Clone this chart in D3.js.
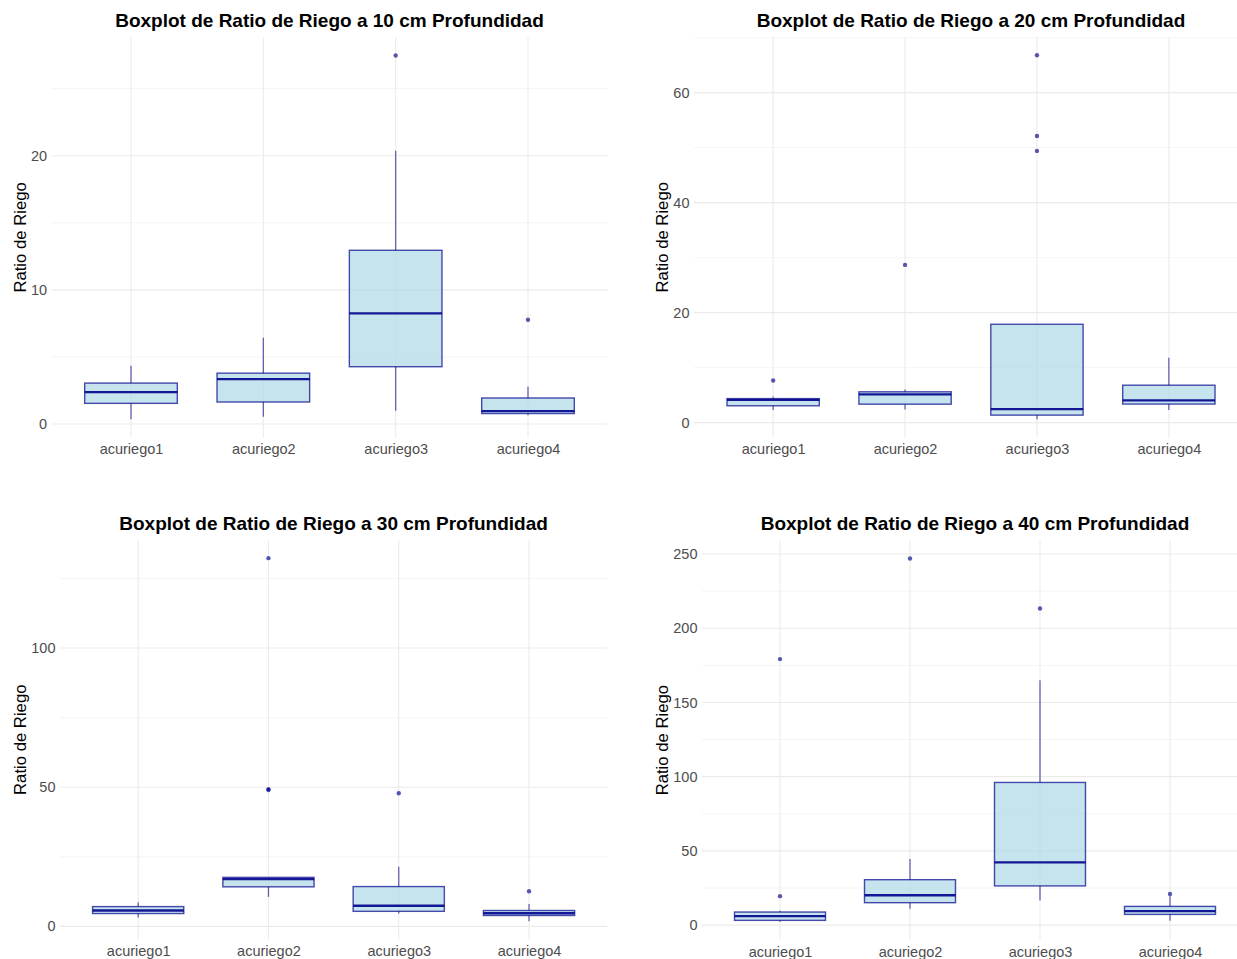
<!DOCTYPE html>
<html>
<head>
<meta charset="utf-8">
<script src="https://cdn.jsdelivr.net/npm/d3@7"></script>
<style>
  html, body { margin: 0; padding: 0; background: #fff; overflow: hidden; }
  svg { display: block; font-family: "Liberation Sans", Arial, sans-serif; }
</style>
</head>
<body>
<div id="chart"></div>
<script>
// categories and depths
var categories = ["acuriego1", "acuriego2", "acuriego3", "acuriego4"];
var depths = [10, 20, 30, 40];

// box stats, one row per depth (10, 20, 30, 40 cm), one value per category
var whiskerLow = [
  [0.35, 0.55, 0.99, 0.66],
  [2.3, 2.4, 0.6, 2.3],
  [3.2, 10.6, 4.6, 1.8],
  [2.2, 11.0, 16.6, 2.9]
];
var q1 = [
  [1.54, 1.64, 4.27, 0.78],
  [3.06, 3.35, 1.36, 3.37],
  [4.6, 14.2, 5.4, 3.9],
  [3.2, 15.1, 26.4, 7.2]
];
var median = [
  [2.37, 3.34, 8.24, 0.96],
  [4.12, 5.13, 2.45, 4.03],
  [5.7, 17.0, 7.4, 4.7],
  [6.0, 20.1, 42.3, 9.4]
];
var q3 = [
  [3.05, 3.79, 12.95, 1.94],
  [4.36, 5.6, 17.88, 6.8],
  [7.1, 17.6, 14.3, 5.7],
  [8.8, 30.6, 96.1, 12.6]
];
var whiskerHigh = [
  [4.34, 6.43, 20.37, 2.78],
  [4.76, 6.0, 17.88, 11.8],
  [8.7, 17.6, 21.4, 8.0],
  [9.6, 44.6, 165, 19.5]
];
var outliers = [
  [[], [], [27.47], [7.77]],
  [[7.66], [28.67], [66.8, 52.1, 49.4], []],
  [[], [132.3, 49.3, 49.0], [47.8], [12.6]],
  [[179.2, 19.5], [247], [213.3], [21.0]]
];

// tick labels per depth
var yTicks = [
  [0, 10, 20],
  [0, 20, 40, 60],
  [0, 50, 100],
  [0, 50, 100, 150, 200, 250]
];

var W = 1237, H = 959;

// panel rectangles (the figure is cropped at right and bottom)
var panels = [
  {left: 51.6, right: 607.4, top: 37.3, bottom: 437.5, titleY: 27, axisX: 26},
  {left: 694, right: 1248, top: 37, bottom: 437.5, titleY: 27, axisX: 668},
  {left: 60, right: 607.2, top: 540, bottom: 939.5, titleY: 530, axisX: 26},
  {left: 702, right: 1248, top: 540.3, bottom: 940, titleY: 530, axisX: 668}
];

var svg = d3.select("#chart").append("svg")
  .attr("width", W)
  .attr("height", H);

var BOX_FILL = "#ADD8E6";
var DARK = "#00008B";

for (var p = 0; p < depths.length; p++) {
  var P = panels[p];
  var g = svg.append("g");

  // y domain: data range with 5% expansion like ggplot
  var vals = [].concat(whiskerLow[p], whiskerHigh[p], d3.merge(outliers[p]));
  var lo = d3.min(vals), hi = d3.max(vals);
  var ext = (hi - lo) * 0.05;

  var y = d3.scaleLinear()
    .domain([lo - ext, hi + ext])
    .range([P.bottom, P.top]);

  var x = d3.scalePoint()
    .domain(categories)
    .range([P.left, P.right])
    .padding(0.6);

  var boxW = x.step() * 0.7;

  // minor grid
  var major = yTicks[p];
  var stepT = major[1] - major[0];
  var minor = [];
  for (var t = major[0] - stepT / 2; t <= y.domain()[1]; t += stepT) {
    if (t >= y.domain()[0]) minor.push(t);
  }
  g.selectAll(".minor").data(minor).enter().append("line")
    .attr("x1", P.left).attr("x2", P.right)
    .attr("y1", function(d) { return y(d); })
    .attr("y2", function(d) { return y(d); })
    .attr("stroke", "#F1F1F1")
    .attr("stroke-width", 0.8);

  // major grid
  g.selectAll(".major").data(major).enter().append("line")
    .attr("x1", P.left).attr("x2", P.right)
    .attr("y1", function(d) { return y(d); })
    .attr("y2", function(d) { return y(d); })
    .attr("stroke", "#EBEBEB")
    .attr("stroke-width", 1.1);

  g.selectAll(".vgrid").data(categories).enter().append("line")
    .attr("x1", function(d) { return x(d); })
    .attr("x2", function(d) { return x(d); })
    .attr("y1", P.top).attr("y2", P.bottom)
    .attr("stroke", "#EBEBEB")
    .attr("stroke-width", 1.1);

  // boxes
  var rows = categories.map(function(c, i) {
    return {cat: c, lo: whiskerLow[p][i], q1: q1[p][i], med: median[p][i],
            q3: q3[p][i], hi: whiskerHigh[p][i], out: outliers[p][i]};
  });

  var box = g.selectAll(".box").data(rows).enter().append("g");

  box.append("line")
    .attr("x1", function(d) { return x(d.cat); })
    .attr("x2", function(d) { return x(d.cat); })
    .attr("y1", function(d) { return y(d.hi); })
    .attr("y2", function(d) { return y(d.q3); })
    .attr("stroke", DARK).attr("stroke-opacity", 0.6).attr("stroke-width", 1.3);

  box.append("line")
    .attr("x1", function(d) { return x(d.cat); })
    .attr("x2", function(d) { return x(d.cat); })
    .attr("y1", function(d) { return y(d.q1); })
    .attr("y2", function(d) { return y(d.lo); })
    .attr("stroke", DARK).attr("stroke-opacity", 0.6).attr("stroke-width", 1.3);

  box.append("rect")
    .attr("x", function(d) { return x(d.cat) - boxW / 2; })
    .attr("width", boxW)
    .attr("y", function(d) { return y(d.q3); })
    .attr("height", function(d) { return y(d.q1) - y(d.q3); })
    .attr("fill", BOX_FILL).attr("fill-opacity", 0.7)
    .attr("stroke", DARK).attr("stroke-opacity", 0.7).attr("stroke-width", 1.4);

  box.append("line")
    .attr("x1", function(d) { return x(d.cat) - boxW / 2; })
    .attr("x2", function(d) { return x(d.cat) + boxW / 2; })
    .attr("y1", function(d) { return y(d.med); })
    .attr("y2", function(d) { return y(d.med); })
    .attr("stroke", DARK).attr("stroke-opacity", 0.9).attr("stroke-width", 2.3);

  box.selectAll("circle").data(function(d) {
      return d.out.map(function(v) { return {cat: d.cat, v: v}; });
    }).enter().append("circle")
    .attr("cx", function(d) { return x(d.cat); })
    .attr("cy", function(d) { return y(d.v); })
    .attr("r", 2.2)
    .attr("fill", DARK).attr("fill-opacity", 0.65);

  // axes
  var ya = g.append("g")
    .attr("transform", "translate(" + P.left + ",0)")
    .call(d3.axisLeft(y).tickValues(major).tickSize(0).tickPadding(4.5));
  ya.select(".domain").remove();
  ya.selectAll("text").attr("fill", "#4D4D4D").style("font-size", "14.5px")
    .style("font-family", "Liberation Sans, Arial, sans-serif");

  var xa = g.append("g")
    .attr("transform", "translate(0," + P.bottom + ")")
    .call(d3.axisBottom(x).tickSize(0).tickPadding(6.5));
  xa.select(".domain").remove();
  xa.selectAll("text").attr("fill", "#4D4D4D").style("font-size", "14.5px")
    .style("font-family", "Liberation Sans, Arial, sans-serif");

  // titles
  g.append("text")
    .attr("x", (P.left + P.right) / 2)
    .attr("y", P.titleY)
    .attr("text-anchor", "middle")
    .style("font-size", "19px")
    .style("font-weight", "bold")
    .attr("fill", "#000")
    .text("Boxplot de Ratio de Riego a " + depths[p] + " cm Profundidad");

  g.append("text")
    .attr("transform", "translate(" + P.axisX + "," + (P.top + P.bottom) / 2 + ") rotate(-90)")
    .attr("text-anchor", "middle")
    .style("font-size", "16.7px")
    .attr("fill", "#000")
    .text("Ratio de Riego");
}
</script>
</body>
</html>
